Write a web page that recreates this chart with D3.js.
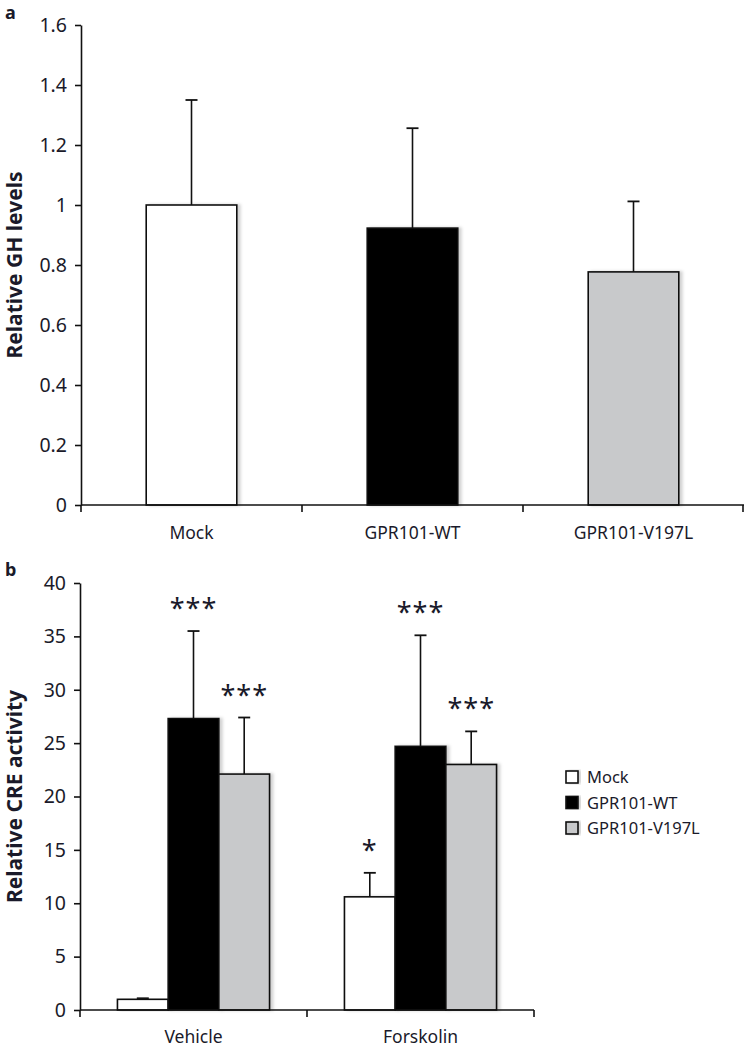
<!DOCTYPE html>
<html><head><meta charset="utf-8">
<script src="https://cdn.jsdelivr.net/npm/d3@7"></script>
<style>body{margin:0;background:#fff}svg{display:block}text{font-family:"Noto Sans","Open Sans",sans-serif;fill:#1a1a2a}</style>
</head><body><svg id="c" width="744" height="1050"></svg>
<script>
// Panel a data
const groupsA = ["Mock", "GPR101-WT", "GPR101-V197L"];
const meanA = [1.0, 0.923, 0.777];
const errA = [0.35, 0.333, 0.235];
const ticksA = [0, 0.2, 0.4, 0.6, 0.8, 1, 1.2, 1.4, 1.6];

// Panel b data
const conditionsB = ["Vehicle", "Forskolin"];
const seriesB = ["Mock", "GPR101-WT", "GPR101-V197L"];
const meanB = { "Vehicle": [1.0, 27.3, 22.1], "Forskolin": [10.6, 24.7, 23.0] };
const errB = { "Vehicle": [0.1, 8.2, 5.3], "Forskolin": [2.25, 10.4, 3.1] };
const sigB = { "Vehicle": ["", "***", "***"], "Forskolin": ["*", "***", "***"] };
const ticksB = [0, 5, 10, 15, 20, 25, 30, 35, 40];

const fills = ["#ffffff", "#000000", "#c8c9cb"];

const svg = d3.select("#c");
const defs = svg.append("defs");
const f = defs.append("filter").attr("id", "sh").attr("x", "-10%").attr("y", "-10%").attr("width", "130%").attr("height", "120%");
f.append("feDropShadow").attr("dx", 3).attr("dy", 0).attr("stdDeviation", 1.8).attr("flood-color", "#000").attr("flood-opacity", 0.18);

function yAxis(g, y, ticks, fmt) {
  const ax = d3.axisLeft(y).tickValues(ticks).tickSize(6).tickSizeOuter(0).tickPadding(8).tickFormat(fmt);
  g.call(ax);
  g.select(".domain").attr("stroke", "#111").attr("stroke-width", 1.6);
  g.selectAll(".tick line").attr("stroke", "#111").attr("stroke-width", 1.6);
  g.selectAll(".tick text").attr("font-size", 19.5).attr("font-family", "Noto Sans").attr("fill", "#1a1a2a");
}

// ---------- Panel a ----------
const xA = d3.scaleBand().domain(groupsA).range([81, 744]).paddingInner(0).paddingOuter(0);
const yA = d3.scaleLinear().domain([0, 1.6]).range([505, 25]);
const gA = svg.append("g");
const barWA = xA.bandwidth() * 0.41;

gA.selectAll("rect.bar").data(groupsA).join("rect")
  .attr("x", d => xA(d) + xA.bandwidth() / 2 - barWA / 2)
  .attr("y", (d, i) => yA(meanA[i]))
  .attr("width", barWA)
  .attr("height", (d, i) => yA(0) - yA(meanA[i]))
  .attr("fill", (d, i) => fills[i])
  .attr("stroke", "#111").attr("stroke-width", 1.6)
  .attr("filter", "url(#sh)");

gA.selectAll("line.err").data(groupsA).join("line")
  .attr("x1", d => xA(d) + xA.bandwidth() / 2).attr("x2", d => xA(d) + xA.bandwidth() / 2)
  .attr("y1", (d, i) => yA(meanA[i])).attr("y2", (d, i) => yA(meanA[i] + errA[i]))
  .attr("stroke", "#111").attr("stroke-width", 1.6);
gA.selectAll("line.cap").data(groupsA).join("line")
  .attr("x1", d => xA(d) + xA.bandwidth() / 2 - 6).attr("x2", d => xA(d) + xA.bandwidth() / 2 + 6)
  .attr("y1", (d, i) => yA(meanA[i] + errA[i])).attr("y2", (d, i) => yA(meanA[i] + errA[i]))
  .attr("stroke", "#111").attr("stroke-width", 1.8);

// x axis a
const xAxA = svg.append("g").attr("transform", `translate(0,${yA(0)})`);
xAxA.append("line").attr("x1", 81).attr("x2", 744).attr("stroke", "#111").attr("stroke-width", 1.6);
const bndA = groupsA.map(d => xA(d)).concat([xA.range()[1] - 1]);
xAxA.selectAll("line.t").data(bndA).join("line").attr("x1", d => d).attr("x2", d => d).attr("y1", 0).attr("y2", 7).attr("stroke", "#111").attr("stroke-width", 1.6);
xAxA.selectAll("text").data(groupsA).join("text")
  .attr("x", d => xA(d) + xA.bandwidth() / 2).attr("y", 34)
  .attr("text-anchor", "middle").attr("font-size", 17.5).text(d => d);

yAxis(svg.append("g").attr("transform", "translate(81,0)"), yA, ticksA, d => d3.format("")(d));

svg.append("text").attr("transform", `translate(22,${(yA(0) + yA(1.6)) / 2}) rotate(-90)`)
  .attr("text-anchor", "middle").attr("font-size", 21).attr("font-weight", "bold").text("Relative GH levels");
svg.append("text").attr("x", 5).attr("y", 19).attr("font-size", 18).attr("font-weight", "bold").text("a");

// ---------- Panel b ----------
const xB = d3.scaleBand().domain(conditionsB).range([80, 534]).paddingInner(0).paddingOuter(0);
const xSub = d3.scaleBand().domain(seriesB).range([0, xB.bandwidth() * 0.67]);
const offB = xB.bandwidth() * (1 - 0.67) / 2;
const yB = d3.scaleLinear().domain([0, 40]).range([1010, 583]);
const gB = svg.append("g");

const flat = [];
conditionsB.forEach(c => seriesB.forEach((s, i) => flat.push({ c, s, i, m: meanB[c][i], e: errB[c][i], sig: sigB[c][i] })));
const cx = d => xB(d.c) + offB + xSub(d.s) + xSub.bandwidth() / 2;

gB.selectAll("line.err").data(flat).join("line")
  .attr("x1", cx).attr("x2", cx)
  .attr("y1", d => yB(d.m)).attr("y2", d => yB(d.m + d.e))
  .attr("stroke", "#111").attr("stroke-width", 1.6);
gB.selectAll("line.cap").data(flat).join("line")
  .attr("x1", d => cx(d) - 6).attr("x2", d => cx(d) + 6)
  .attr("y1", d => yB(d.m + d.e)).attr("y2", d => yB(d.m + d.e))
  .attr("stroke", "#111").attr("stroke-width", 1.8);
gB.selectAll("rect.bar").data(flat).join("rect")
  .attr("x", d => xB(d.c) + offB + xSub(d.s))
  .attr("y", d => yB(d.m))
  .attr("width", xSub.bandwidth())
  .attr("height", d => yB(0) - yB(d.m))
  .attr("fill", d => fills[d.i])
  .attr("stroke", "#111").attr("stroke-width", 1.6)
  .attr("filter", "url(#sh)");
gB.selectAll("text.sig").data(flat.filter(d => d.sig)).join("text")
  .attr("x", cx).attr("y", d => yB(d.m + d.e) - 13)
  .attr("text-anchor", "middle").attr("font-size", 27).attr("font-family", "DejaVu Sans")
  .attr("fill", "#111").attr("letter-spacing", 1).text(d => d.sig);

const xAxB = svg.append("g").attr("transform", `translate(0,${yB(0)})`);
xAxB.append("line").attr("x1", 80).attr("x2", 534).attr("stroke", "#111").attr("stroke-width", 1.6);
const bndB = conditionsB.map(d => xB(d)).concat([xB.range()[1]]);
xAxB.selectAll("line.t").data(bndB).join("line").attr("x1", d => d).attr("x2", d => d).attr("y1", 0).attr("y2", 7).attr("stroke", "#111").attr("stroke-width", 1.6);
xAxB.selectAll("text").data(conditionsB).join("text")
  .attr("x", d => xB(d) + xB.bandwidth() / 2).attr("y", 33)
  .attr("text-anchor", "middle").attr("font-size", 17.5).text(d => d);

yAxis(svg.append("g").attr("transform", "translate(80,0)"), yB, ticksB, d => d3.format("")(d));

svg.append("text").attr("transform", `translate(22,${(yB(0) + yB(40)) / 2}) rotate(-90)`)
  .attr("text-anchor", "middle").attr("font-size", 21).attr("font-weight", "bold").text("Relative CRE activity");
svg.append("text").attr("x", 5).attr("y", 576).attr("font-size", 18).attr("font-weight", "bold").text("b");

// legend
const lg = svg.append("g").attr("transform", "translate(566,771)");
seriesB.forEach((s, i) => {
  const r = lg.append("g").attr("transform", `translate(0,${i * 25.5})`);
  r.append("rect").attr("x", 0).attr("y", 0).attr("width", 12).attr("height", 12)
    .attr("fill", fills[i]).attr("stroke", "#111").attr("stroke-width", 1.6).attr("filter", "url(#sh)");
  r.append("text").attr("x", 21).attr("y", 12).attr("font-size", 16.5).text(s);
});
</script></body></html>
